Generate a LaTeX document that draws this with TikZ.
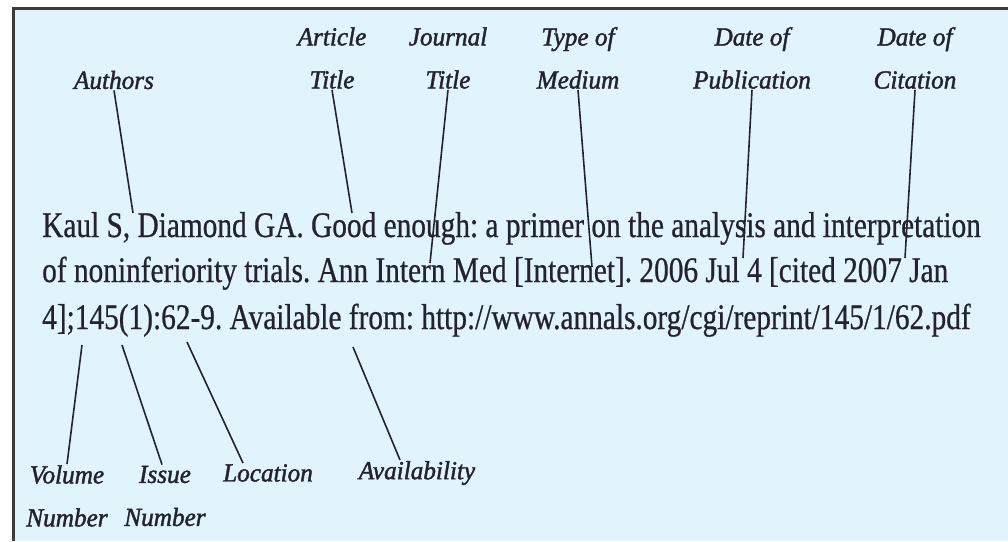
\documentclass[tikz,border=0pt]{standalone}
\usepackage{fontspec}
\setmainfont{Liberation Serif}
\newfontfamily\citefont{Liberation Serif}[FakeStretch=0.815,FakeBold=0.6]
\newfontfamily\lblfont{Liberation Serif}[FakeStretch=0.97,FakeBold=1.6]
\definecolor{bgblue}{HTML}{E1F4FC}
\definecolor{ink}{HTML}{23232E}
\definecolor{framegray}{HTML}{3C3C3C}
\frenchspacing

\begin{document}
\begin{tikzpicture}[x=1pt, y=-1pt,
        lbl/.style={font=\lblfont\itshape\fontsize{26}{43}\selectfont, text=ink, align=center, inner sep=1pt},
        txt/.style={font=\citefont\fontsize{36}{46}\selectfont, text=ink, anchor=base west, inner sep=0pt},
        ptr/.style={draw=ink, line width=1.6pt}]
        \useasboundingbox (0,0) rectangle (1008,541);
        \fill[bgblue] (13,8) rectangle (1008,541);
        \draw[framegray, line width=3pt] (13,541) -- (13,8) -- (1008,8);

        \node[txt] (l1) at (42,237) {Kaul S, Diamond GA. Good enough: a primer on the analysis and interpretation};
        \node[txt] (l2) at (42,282) {of noninferiority trials. Ann Intern Med [Internet]. 2006 Jul 4 [cited 2007 Jan};
        \node[txt] (l3) at (42,329) {4];145(1):62-9. Available from: http://www.annals.org/cgi/reprint/145/1/62.pdf};

        \node[lbl] (authors) at (114,80) {Authors};
        \node[lbl] (article) at (332,58) {Article\\Title};
        \node[lbl] (journal) at (448,58) {Journal\\Title};
        \node[lbl] (medium) at (578,58) {Type of\\Medium};
        \node[lbl] (pubdate) at (752,58) {Date of\\Publication};
        \node[lbl] (citedate) at (915,58) {Date of\\Citation};

        \node[lbl] (volume) at (67,496) {Volume\\Number};
        \node[lbl] (issue) at (165,496) {Issue\\Number};
        \node[lbl] (location) at (268,473) {Location};
        \node[lbl] (avail) at (417,473) {Availability};

        \coordinate (authors-pt) at (133,213);
        \coordinate (article-pt) at (352,213);
        \coordinate (journal-pt) at (430,263);
        \coordinate (medium-pt) at (592,267);
        \coordinate (pubdate-pt) at (743,258);
        \coordinate (citedate-pt) at (905,258);
        \coordinate (volume-pt) at (82,345);
        \coordinate (issue-pt) at (122,345);
        \coordinate (location-pt) at (187,342);
        \coordinate (avail-pt) at (353,347);

        \draw[ptr] (authors.south) -- (authors-pt);
        \draw[ptr] (article.south) -- (article-pt);
        \draw[ptr] (journal.south) -- (journal-pt);
        \draw[ptr] (medium.south) -- (medium-pt);
        \draw[ptr] (pubdate.south) -- (pubdate-pt);
        \draw[ptr] (citedate.south) -- (citedate-pt);

        \draw[ptr] (volume.north) -- (volume-pt);
        \draw[ptr] ([xshift=-3pt]issue.north) -- (issue-pt);
        \draw[ptr] ([xshift=-25pt]location.north) -- (location-pt);
        \draw[ptr] ([xshift=-17pt]avail.north) -- (avail-pt);
\end{tikzpicture}
\end{document}
